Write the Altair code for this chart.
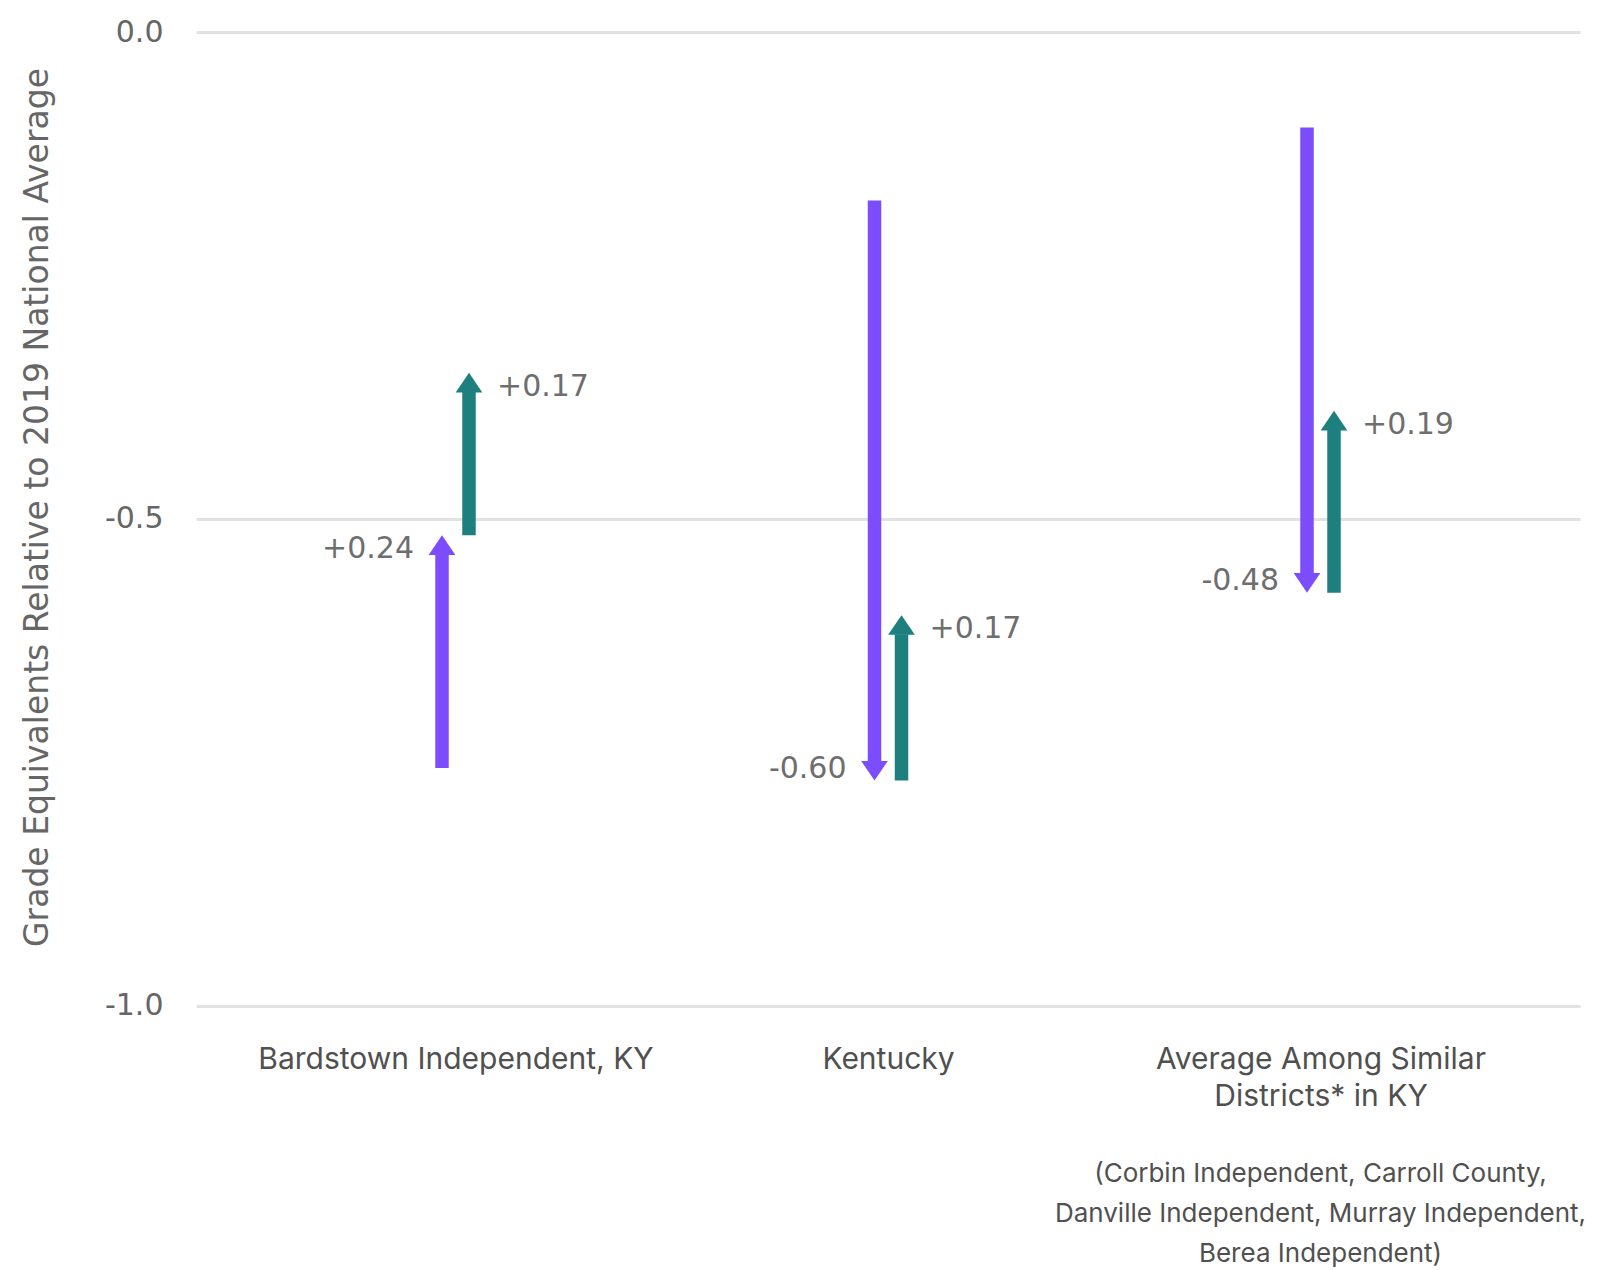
import altair as alt
import pandas as pd

# ---- data ----
categories = ["Bardstown Independent, KY", "Kentucky", "Average Among Similar Districts* in KY"]
purple_from = [-0.756, -0.173, -0.098]
purple_to = [-0.517, -0.769, -0.576]
teal_from = [-0.517, -0.769, -0.576]
teal_to = [-0.350, -0.599, -0.389]
purple_labels = ["+0.24", "-0.60", "-0.48"]
teal_labels = ["+0.17", "+0.17", "+0.19"]
footnote_lines = ["(Corbin Independent, Carroll County,",
                  "Danville Independent, Murray Independent,",
                  "Berea Independent)"]
y_ticks = [-1.0, -0.5, 0.0]

PURPLE = "#7C4DFF"
TEAL = "#1E807E"
NUM_FONT = "DejaVu Sans"
TXT_FONT = "Inter"

rows = []
for i, c in enumerate(categories):
    rows.append(dict(category=c, series="purple", start=purple_from[i], end=purple_to[i], label=purple_labels[i]))
    rows.append(dict(category=c, series="teal", start=teal_from[i], end=teal_to[i], label=teal_labels[i]))
df = pd.DataFrame(rows)
df["dir"] = ["up" if e > s else "down" for s, e in zip(df["start"], df["end"])]

x_axis = alt.Axis(title=None, labelAngle=0, labelFont=TXT_FONT, labelFontSize=30, labelColor="#505050",
                  labelPadding=39, labelLineHeight=37, labelLimit=0, ticks=False, domain=False, grid=False,
                  labelBaseline="top",
                  labelExpr="datum.label == 'Average Among Similar Districts* in KY' ? ['Average Among Similar', 'Districts* in KY'] : datum.label")
y_axis = alt.Axis(title="Grade Equivalents Relative to 2019 National Average", values=y_ticks,
                  labelExpr="datum.value < 0 ? '-' + format(abs(datum.value), '.1f') : format(datum.value, '.1f')",
                  labelFont=NUM_FONT, labelFontSize=30, labelColor="#666666", labelPadding=33,
                  ticks=False, domain=False, grid=True, gridColor="#e2e2e2", gridWidth=3,
                  titleFont=NUM_FONT, titleFontSize=33, titleFontWeight="normal", titleColor="#666666",
                  titleAngle=-90, titleX=-149, titleY=475, titleAlign="center", titleBaseline="alphabetic")

X = alt.X("category:N", sort=categories, scale=alt.Scale(type="point", padding=0.6), axis=x_axis)
yscale = alt.Scale(domain=[-1, 0], nice=False, zero=False)


def Y(field):
    return alt.Y(field, type="quantitative", scale=yscale, axis=y_axis)


PATH_UP = "M0,0L1,1.476L-1,1.476Z"
PATH_DOWN = "M0,0L1,-1.476L-1,-1.476Z"

base = alt.Chart(df)
layers = []
for s, col in [("purple", PURPLE), ("teal", TEAL)]:
    xo = -13.5 if s == "purple" else 13.5
    for d in ["up", "down"]:
        sgn = 1 if d == "up" else -1
        sub = base.transform_filter(f"datum.series == '{s}' && datum.dir == '{d}'")
        shaft = sub.mark_rule(color=col, strokeWidth=13.5, strokeCap="butt", xOffset=xo,
                              y2Offset=19 * sgn).encode(x=X, y=Y("start"), y2="end:Q")
        head = sub.mark_point(shape=PATH_UP if d == "up" else PATH_DOWN, filled=True, size=713,
                              color=col, opacity=1, strokeWidth=0, xOffset=xo).encode(x=X, y=Y("end"))
        txt = sub.mark_text(align="right" if s == "purple" else "left", baseline="middle",
                            dx=xo + (-28 if s == "purple" else 28), dy=14 if d == "up" else -12,
                            font=NUM_FONT, fontSize=30, color="#6e6e6e").encode(
            x=X, y=Y("end"), text="label:N")
        layers += [shaft, head, txt]

note_df = pd.DataFrame({"category": [categories[2]], "note": ["\n".join(footnote_lines)]})
note = alt.Chart(note_df).mark_text(align="center", baseline="alphabetic", font=TXT_FONT, fontSize=26,
                                    lineBreak="\n", lineHeight=40, color="#505050").encode(
    x=X, y=alt.value(1150), text="note:N")
layers.append(note)

chart = alt.layer(*layers).properties(
    width=1384, height=973.5,
    autosize=alt.AutoSizeParams(type="none"),
    padding={"left": 188, "top": 24, "right": 12, "bottom": 280},
).configure_view(strokeWidth=0, stroke="transparent")

chart.save("out.html", embed_options={"renderer": "svg", "actions": False})
